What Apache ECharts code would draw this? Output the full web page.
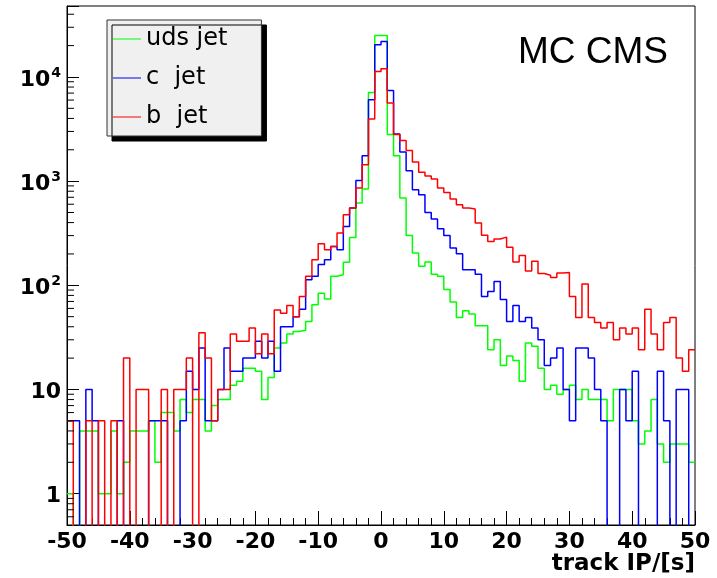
<!DOCTYPE html>
<html>
<head>
<meta charset="utf-8">
<script src="https://cdn.jsdelivr.net/npm/echarts@6/dist/echarts.min.js"></script>
<style>html,body{margin:0;padding:0;background:#fff}#c{width:717px;height:578px}</style>
</head>
<body>
<div id="c"></div>
<script>
// Lower edges of the 100 bins (track IP / sigma)
const binStart = [-50,-49,-48,-47,-46,-45,-44,-43,-42,-41,-40,-39,-38,-37,-36,-35,-34,-33,-32,-31,
  -30,-29,-28,-27,-26,-25,-24,-23,-22,-21,-20,-19,-18,-17,-16,-15,-14,-13,-12,-11,
  -10,-9,-8,-7,-6,-5,-4,-3,-2,-1,0,1,2,3,4,5,6,7,8,9,
  10,11,12,13,14,15,16,17,18,19,20,21,22,23,24,25,26,27,28,29,
  30,31,32,33,34,35,36,37,38,39,40,41,42,43,44,45,46,47,48,49];
const lastEdge = 50;

const udsJet = [1,0,4,4,4,1,1,4,1,2, 4,4,4,5,2,6,6,4,8,6,
  8,8,4,7,8,8,11,12,16,16, 15,8,13,25,28,34,36,37,45,65,
  84,74,122,126,166,288,616,840,7100,25000,
  25000,2800,1750,690,300,204,152,167,128,122,
  91,69,49,57,53,41,41,24,30,17, 21,19,12,28,26,16,10,11,9,10,
  11,8,10,8,8,8,5,10,10,10, 5,3,4,8,3,2,3,3,3,2];

const cJet = [5,5,0,10,5,0,0,0,5,0, 0,0,0,5,5,5,0,0,5,15,
  10,25,5,5,10,25,15,15,20,20, 29,20,29,15,40,40,50,59,113,122,
  158,176,236,220,367,552,1016,1750,6040,20400,
  21900,7430,2830,1900,1260,826,740,500,433,349,
  300,228,201,141,141,128,78,87,109,73, 45,64,45,49,39,30,17,20,25,10,
  5,25,25,20,10,5,0,0,10,5, 15,0,0,0,15,5,0,10,10,0];

const bJet = [5,0,0,5,0,5,0,5,0,20, 0,10,10,0,0,10,0,10,10,20,
  0,35,20,5,10,10,34,29,29,39, 22,34,22,58,54,64,50,78,122,176,
  251,220,236,318,476,552,858,1437,3950,11300,
  12000,5620,2800,2460,1970,1525,1215,1120,1050,858,
  779,673,594,552,540,396,303,264,278,290, 232,167,193,137,170,130,125,119,131,133,
  78,49,103,49,44,39,44,30,39,34, 39,24,59,34,24,44,49,20,15,24];

const seriesNames = ['uds jet', 'c  jet', 'b  jet'];
const seriesColors = ['#00ff00', '#0000ff', '#ff0000'];
const yMinorTicks = [0.6,0.7,0.8,0.9, 2,3,4,5,6,7,8,9, 20,30,40,50,60,70,80,90,
  200,300,400,500,600,700,800,900, 2000,3000,4000,5000,6000,7000,8000,9000, 20000,30000,40000];

const EMPTY = 1e-3; // empty bins are drawn down to (below) the frame, as ROOT does
function histPoints(vals) {
  const pts = binStart.map((x, i) => [x, vals[i] > 0 ? vals[i] : EMPTY]);
  const lastVal = vals[vals.length - 1];
  pts.push([lastEdge, lastVal > 0 ? lastVal : EMPTY]);
  return pts;
}

const chart = echarts.init(document.getElementById('c'), null, {renderer: 'canvas'});
const FONT = 'DejaVu Sans';

const lineSeries = [udsJet, cJet, bJet].map((vals, k) => ({
  name: seriesNames[k],
  type: 'line',
  step: 'end',
  data: histPoints(vals),
  showSymbol: false,
  symbol: 'none',
  clip: true,
  lineStyle: {color: seriesColors[k], width: 1.5},
  itemStyle: {color: seriesColors[k]},
  animation: false,
  z: 3 + k
}));

const option = {
  backgroundColor: '#ffffff',
  animation: false,
  grid: {left: 67, right: 22, top: 6, bottom: 53, show: true, borderColor: '#000', borderWidth: 1, backgroundColor: 'transparent'},
  title: {
    text: 'MC CMS', left: 518, top: 34, padding: 0,
    textStyle: {fontFamily: 'Liberation Sans', fontSize: 37, fontWeight: 'normal', color: '#000'}
  },
  legend: {
    data: seriesNames,
    orient: 'vertical', left: 107, top: 20,
    padding: [4, 34, 4, 6], itemGap: 9, itemWidth: 28, itemHeight: 1, icon: 'rect',
    backgroundColor: '#f0f0f0', borderColor: '#333', borderWidth: 1,
    shadowColor: '#000', shadowOffsetX: 5, shadowOffsetY: 5, shadowBlur: 0.01,
    selectedMode: false,
    textStyle: {fontFamily: FONT, fontSize: 24, color: '#000', lineHeight: 30}
  },
  xAxis: {
    type: 'value', min: -50, max: 50, interval: 10,
    axisLine: {show: true, onZero: false, lineStyle: {color: '#000', width: 1}},
    axisTick: {show: true, inside: true, length: 14, lineStyle: {color: '#000'}},
    minorTick: {show: true, splitNumber: 5, length: 7, lineStyle: {color: '#000'}},
    splitLine: {show: false},
    axisLabel: {color: '#000', fontFamily: FONT, fontWeight: 'bold', fontSize: 22, margin: 6},
    name: 'track IP/[s]', nameLocation: 'end', nameGap: 0,
    nameTextStyle: {color: '#000', fontFamily: FONT, fontWeight: 'bold', fontSize: 23, align: 'right', verticalAlign: 'top', padding: [28, 0, 0, 0]}
  },
  yAxis: {
    type: 'log', logBase: 10, min: 0.5, max: 48000,
    axisLine: {show: true, onZero: false, lineStyle: {color: '#000', width: 1}},
    axisTick: {show: true, inside: true, length: 12, lineStyle: {color: '#000'}},
    splitLine: {show: false},
    axisLabel: {
      margin: 6,
      formatter: function (v) {
        const e = Math.log10(v);
        const r = Math.round(e);
        if (Math.abs(e - r) > 1e-6 || r < 0) return '';
        if (r === 0) return '{b|1}';
        if (r === 1) return '{b|10}';
        return '{b|10}{s|' + r + '}';
      },
      rich: {
        b: {fontFamily: FONT, fontWeight: 'bold', fontSize: 22, color: '#000', padding: [6, 0, 0, 0]},
        s: {fontFamily: FONT, fontWeight: 'bold', fontSize: 14, color: '#000', padding: [0, 0, 8, 1]}
      }
    }
  },
  series: [
    {
      type: 'custom',
      name: 'yminor',
      silent: true,
      animation: false,
      data: yMinorTicks.map(v => [-50, v]),
      renderItem: function (params, api) {
        const p = api.coord([api.value(0), api.value(1)]);
        return {type: 'line', shape: {x1: p[0], y1: p[1], x2: p[0] + 7, y2: p[1]}, style: {stroke: '#000', lineWidth: 1}};
      },
      z: 10
    }
  ].concat(lineSeries)
};
chart.setOption(option);
</script>
</body>
</html>
